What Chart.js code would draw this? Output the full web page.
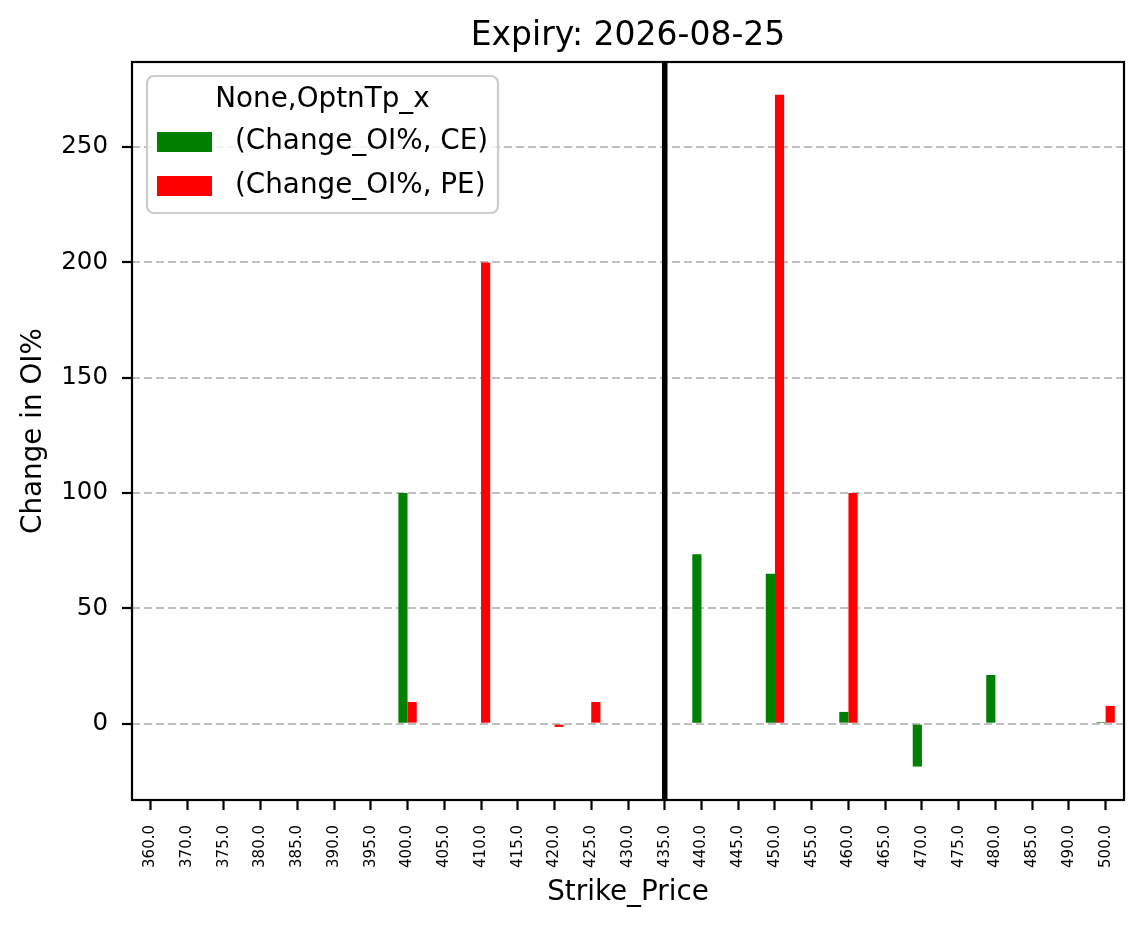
<!DOCTYPE html>
<html>
<head>
<meta charset="utf-8">
<script src="https://cdn.jsdelivr.net/npm/chart.js@4"></script>
<style>
    body { margin: 0; background: #fff; }
</style>
</head>
<body>
<canvas id="oiChart" width="1143" height="928"></canvas>
<script>
// Strike prices (x categories)
const strikes = ['360.0', '370.0', '375.0', '380.0', '385.0', '390.0', '395.0', '400.0', '405.0',
    '410.0', '415.0', '420.0', '425.0', '430.0', '435.0', '440.0', '445.0', '450.0', '455.0',
    '460.0', '465.0', '470.0', '475.0', '480.0', '485.0', '490.0', '500.0'];

// Change in OI% for calls and puts (null = no value)
const ceChange = [null, null, null, null, null, null, null, 100, null,
    null, null, null, null, null, null, 73.5, null, 65, null,
    5.1, null, -18.6, null, 21.1, null, null, 0.7];
const peChange = [null, null, null, null, null, null, null, 9.4, null,
    200, null, -1.4, 9.4, null, null, null, null, 272.7, null,
    100, null, null, null, null, null, null, 7.7];

const yTicks = [0, 50, 100, 150, 200, 250];
const spotStrike = '435.0';
const legendTitle = 'None,OptnTp_x';
const chartTitle = 'Expiry: 2026-08-25';

const FONT = "'DejaVu Sans', sans-serif";

// Title, spot line, frame and legend box drawn on top
const overlayPlugin = {
    id: 'overlay',
    afterDraw(chart) {
        const ctx = chart.ctx;
        const area = chart.chartArea;
        const x = chart.scales.x;

        // vertical line at the spot strike
        const sx = x.getPixelForValue(strikes.indexOf(spotStrike));
        ctx.save();
        ctx.strokeStyle = '#000';
        ctx.lineWidth = 5.5;
        ctx.beginPath();
        ctx.moveTo(sx, area.top);
        ctx.lineTo(sx, area.bottom);
        ctx.stroke();

        // axes frame
        ctx.lineWidth = 2.2;
        ctx.strokeRect(area.left, area.top, area.right - area.left, area.bottom - area.top);

        // title
        ctx.fillStyle = '#000';
        ctx.font = '33px ' + FONT;
        ctx.textAlign = 'center';
        ctx.textBaseline = 'alphabetic';
        ctx.fillText(chartTitle, (area.left + area.right) / 2, 45);

        // legend box
        const bx = 147, by = 76, bw = 351, bh = 137, r = 7;
        ctx.beginPath();
        ctx.moveTo(bx + r, by);
        ctx.arcTo(bx + bw, by, bx + bw, by + bh, r);
        ctx.arcTo(bx + bw, by + bh, bx, by + bh, r);
        ctx.arcTo(bx, by + bh, bx, by, r);
        ctx.arcTo(bx, by, bx + bw, by, r);
        ctx.closePath();
        ctx.fillStyle = 'rgba(255,255,255,0.8)';
        ctx.fill();
        ctx.strokeStyle = '#cccccc';
        ctx.lineWidth = 2.2;
        ctx.stroke();

        ctx.fillStyle = '#000';
        ctx.font = '27.8px ' + FONT;
        ctx.textBaseline = 'middle';
        ctx.fillText(legendTitle, bx + bw / 2, 100);

        ctx.textAlign = 'left';
        chart.data.datasets.forEach((ds, i) => {
            const cy = 142 + i * 44;
            ctx.fillStyle = ds.backgroundColor;
            ctx.fillRect(157, cy - 10, 55, 20);
            ctx.fillStyle = '#000';
            ctx.fillText(ds.label, 235, cy);
        });
        ctx.restore();
    }
};

const chartConfig = {
    type: 'bar',
    data: {
        labels: strikes,
        datasets: [
            {
                label: '(Change_OI%, CE)',
                data: ceChange,
                backgroundColor: '#008000',
                categoryPercentage: 0.5,
                barPercentage: 1.0
            },
            {
                label: '(Change_OI%, PE)',
                data: peChange,
                backgroundColor: '#ff0000',
                categoryPercentage: 0.5,
                barPercentage: 1.0
            }
        ]
    },
    options: {
        responsive: false,
        animation: false,
        layout: {
            padding: { top: 62, right: 19, left: 0, bottom: 0 }
        },
        scales: {
            x: {
                offset: true,
                grid: {
                    offset: false,
                    drawOnChartArea: false,
                    drawTicks: true,
                    tickLength: 10,
                    tickColor: '#000',
                    tickWidth: 2.2
                },
                border: { display: false },
                ticks: {
                    autoSkip: false,
                    minRotation: 90,
                    maxRotation: 90,
                    padding: 15,
                    color: '#000',
                    font: { family: FONT, size: 15 }
                },
                title: {
                    display: true,
                    text: 'Strike_Price',
                    color: '#000',
                    font: { family: FONT, size: 27.8 },
                    padding: { top: 0, bottom: 19 }
                },
                afterFit(scale) { scale.height = 128; }
            },
            y: {
                min: -33.1,
                max: 286.9,
                z: 1,
                grid: {
                    color: 'rgba(128,128,128,0.5)',
                    lineWidth: 2,
                    tickLength: 10,
                    tickColor: '#000',
                    tickWidth: 2.2,
                    tickBorderDash: []
                },
                border: { display: false, dash: [8, 4] },
                ticks: {
                    padding: 14,
                    color: '#000',
                    font: { family: FONT, size: 24.5 }
                },
                title: {
                    display: true,
                    text: 'Change in OI%',
                    color: '#000',
                    font: { family: FONT, size: 27.8 },
                    padding: { top: 17, bottom: 0 }
                },
                afterBuildTicks(scale) {
                    scale.ticks = yTicks.map(v => ({ value: v }));
                },
                afterFit(scale) { scale.width = 132; }
            }
        },
        plugins: {
            legend: { display: false },
            title: { display: false },
            tooltip: { enabled: false }
        }
    },
    plugins: [overlayPlugin]
};

const oiChart = new Chart(document.getElementById('oiChart'), chartConfig);
</script>
</body>
</html>
